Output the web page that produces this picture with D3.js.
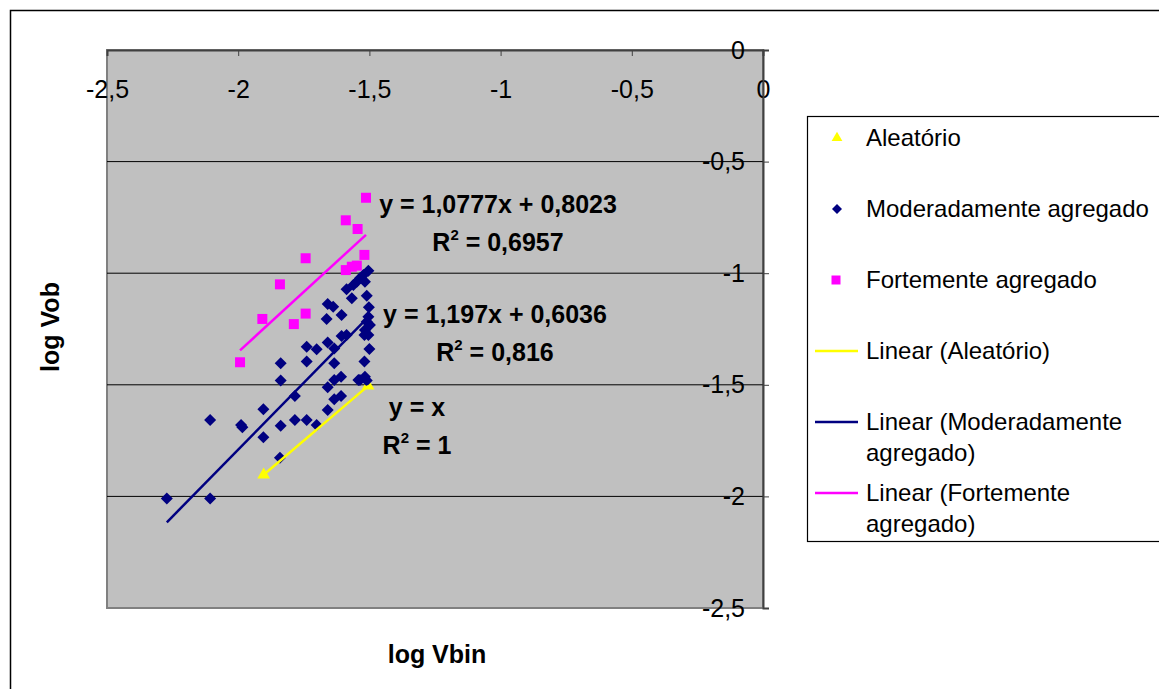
<!DOCTYPE html>
<html>
<head>
<meta charset="utf-8">
<script src="https://cdn.jsdelivr.net/npm/d3@7"></script>
<style>
  body { margin: 0; background: #fff; }
  svg text { font-family: "Liberation Sans", Arial, sans-serif; }
</style>
</head>
<body>
<svg id="chart" width="1159" height="689"></svg>
<script>
// series: [log Vbin, log Vob]
var aleatorio = [[-1.903, -1.903], [-1.505, -1.505]];

var moderado = [
  [-2.272, -2.009], [-2.107, -2.009], [-2.107, -1.658], [-1.989, -1.680], [-1.984, -1.690],
  [-1.904, -1.610], [-1.904, -1.735], [-1.841, -1.827], [-1.838, -1.404], [-1.838, -1.481],
  [-1.838, -1.683], [-1.784, -1.550], [-1.784, -1.658], [-1.739, -1.329], [-1.739, -1.396],
  [-1.739, -1.658], [-1.701, -1.341], [-1.701, -1.680], [-1.659, -1.311], [-1.659, -1.511],
  [-1.659, -1.613], [-1.634, -1.337], [-1.634, -1.404], [-1.634, -1.478], [-1.634, -1.565],
  [-1.608, -1.464], [-1.608, -1.550], [-1.606, -1.281], [-1.587, -1.277], [-1.519, -1.277],
  [-1.500, -1.340], [-1.519, -1.396], [-1.536, -1.478], [-1.517, -1.464], [-1.510, -1.481],
  [-1.542, -1.478], [-1.659, -1.138], [-1.638, -1.150], [-1.606, -1.187], [-1.663, -1.205],
  [-1.587, -1.072], [-1.567, -1.112], [-1.561, -1.053], [-1.504, -0.989], [-1.523, -1.008],
  [-1.536, -1.023], [-1.548, -1.038], [-1.517, -1.038], [-1.510, -1.101], [-1.502, -1.153],
  [-1.504, -1.195], [-1.510, -1.217], [-1.498, -1.232], [-1.517, -1.254], [-1.504, -1.277]
];

var forte = [
  [-1.513, -0.662], [-1.590, -0.763], [-1.545, -0.802], [-1.743, -0.933], [-1.519, -0.918],
  [-1.590, -0.986], [-1.548, -0.966], [-1.567, -0.971], [-1.841, -1.050], [-1.743, -1.181],
  [-1.908, -1.205], [-1.788, -1.228], [-1.993, -1.399]
];

// trendline coefficients [slope, intercept] as printed on the chart
var trendAleatorio = [1, 0];
var trendModerado = [1.197, 0.6036];
var trendForte = [1.0777, 0.8023];

var xTicks = [-2.5, -2, -1.5, -1, -0.5, 0];
var yTicks = [0, -0.5, -1, -1.5, -2, -2.5];

var legendNames = ["Aleatório", "Moderadamente agregado", "Fortemente agregado",
  "Linear (Aleatório)", "Linear (Moderadamente|agregado)", "Linear (Fortemente|agregado)"];

var svg = d3.select("#chart");
var fmt = function (d) { return String(d).replace(".", ","); };

var x = d3.scaleLinear().domain([-2.5, 0]).range([107, 763]);
var y = d3.scaleLinear().domain([-2.5, 0]).range([608, 50]);

// outer frame
svg.append("rect").attr("x", 10.5).attr("y", 10.5).attr("width", 1160).attr("height", 700)
  .attr("fill", "#fff").attr("stroke", "#000").attr("stroke-width", 1.5);

// plot area
svg.append("rect").attr("x", x(-2.5)).attr("y", y(0))
  .attr("width", x(0) - x(-2.5)).attr("height", y(-2.5) - y(0))
  .attr("fill", "#c0c0c0").attr("stroke", "#808080").attr("stroke-width", 2);

// gridlines
svg.append("g").selectAll("line").data(yTicks.filter(function (d) { return d < 0 && d > -2.5; }))
  .enter().append("line")
  .attr("x1", x(-2.5)).attr("x2", x(0))
  .attr("y1", function (d) { return y(d); }).attr("y2", function (d) { return y(d); })
  .attr("stroke", "#000").attr("stroke-width", 1);

// x axis along y = 0 (top)
var gx = svg.append("g").attr("transform", "translate(0," + y(0) + ")")
  .call(d3.axisBottom(x).tickValues(xTicks).tickFormat(fmt).tickSize(6).tickPadding(24));
gx.select(".domain").attr("stroke", "#404040").attr("stroke-width", 2);
gx.selectAll(".tick line").attr("stroke", "#404040");
gx.selectAll("text").attr("font-size", 25).attr("fill", "#000")
  .style("font-family", "'Liberation Sans', Arial, sans-serif");

// y axis along x = 0 (right), labels on the inside
var gy = svg.append("g").attr("transform", "translate(" + x(0) + ",0)")
  .call(d3.axisRight(y).tickValues(yTicks).tickFormat(fmt).tickSize(6));
gy.select(".domain").attr("stroke", "#404040").attr("stroke-width", 2);
gy.selectAll(".tick line").attr("stroke", "#404040");
gy.selectAll("text").attr("x", -18).attr("text-anchor", "end")
  .attr("font-size", 25).attr("fill", "#000")
  .style("font-family", "'Liberation Sans', Arial, sans-serif");

// markers
var tri = d3.symbol().type(d3.symbolTriangle).size(70);
var sq = d3.symbol().type(d3.symbolSquare);

svg.append("g").selectAll("path").data(aleatorio).enter().append("path")
  .attr("d", tri)
  .attr("transform", function (d) { return "translate(" + x(d[0]) + "," + y(d[1]) + ")"; })
  .attr("fill", "#ffff00");

svg.append("g").selectAll("path").data(moderado).enter().append("path")
  .attr("d", sq.size(72))
  .attr("transform", function (d) { return "translate(" + x(d[0]) + "," + y(d[1]) + ") rotate(45)"; })
  .attr("fill", "#000080");

svg.append("g").selectAll("path").data(forte).enter().append("path")
  .attr("d", sq.size(100))
  .attr("transform", function (d) { return "translate(" + x(d[0]) + "," + y(d[1]) + ")"; })
  .attr("fill", "#ff00ff");

// trendlines over each series' x range
function trend(data, coef, color) {
  var ext = d3.extent(data, function (d) { return d[0]; });
  svg.append("line")
    .attr("x1", x(ext[0])).attr("y1", y(coef[0] * ext[0] + coef[1]))
    .attr("x2", x(ext[1])).attr("y2", y(coef[0] * ext[1] + coef[1]))
    .attr("stroke", color).attr("stroke-width", 2.5);
}
trend(aleatorio, trendAleatorio, "#ffff00");
trend(moderado, trendModerado, "#000080");
trend(forte, trendForte, "#ff00ff");

// equation labels
function eqLabel(cx, by, eq, r2) {
  var g = svg.append("g").attr("font-weight", "bold").attr("font-size", 25).attr("text-anchor", "middle");
  g.append("text").attr("x", cx).attr("y", by).text(eq);
  var t = g.append("text").attr("x", cx).attr("y", by + 38);
  t.append("tspan").text("R");
  t.append("tspan").attr("font-size", 15).attr("dy", -11).text("2");
  t.append("tspan").attr("dy", 11).text(" = " + r2);
}
eqLabel(498, 213, "y = 1,0777x + 0,8023", "0,6957");
eqLabel(495, 323, "y = 1,197x + 0,6036", "0,816");
eqLabel(417, 416, "y = x", "1");

// axis titles
svg.append("text").attr("x", 437).attr("y", 663).attr("text-anchor", "middle")
  .attr("font-weight", "bold").attr("font-size", 25).text("log Vbin");
svg.append("text").attr("transform", "translate(59,327) rotate(-90)").attr("text-anchor", "middle")
  .attr("font-weight", "bold").attr("font-size", 25).text("log Vob");

// legend
var lg = svg.append("g");
lg.append("rect").attr("x", 807.5).attr("y", 116.5).attr("width", 400).attr("height", 425)
  .attr("fill", "#fff").attr("stroke", "#000").attr("stroke-width", 1.2);
var rowY = [138, 209, 280, 351, 422, 493];
var colors = ["#ffff00", "#000080", "#ff00ff", "#ffff00", "#000080", "#ff00ff"];

lg.append("path").attr("d", d3.symbol().type(d3.symbolTriangle).size(50))
  .attr("transform", "translate(837," + rowY[0] + ")").attr("fill", colors[0]);
lg.append("path").attr("d", d3.symbol().type(d3.symbolSquare).size(50))
  .attr("transform", "translate(837," + rowY[1] + ") rotate(45)").attr("fill", colors[1]);
lg.append("path").attr("d", d3.symbol().type(d3.symbolSquare).size(81))
  .attr("transform", "translate(836," + rowY[2] + ")").attr("fill", colors[2]);
[3, 4, 5].forEach(function (i) {
  lg.append("line").attr("x1", 815).attr("x2", 858).attr("y1", rowY[i]).attr("y2", rowY[i])
    .attr("stroke", colors[i]).attr("stroke-width", 2.5);
});
legendNames.forEach(function (name, i) {
  var t = lg.append("text").attr("x", 866).attr("y", rowY[i] + 8).attr("font-size", 24);
  name.split("|").forEach(function (part, j) {
    t.append("tspan").attr("x", 866).attr("dy", j === 0 ? 0 : 31).text(part);
  });
});
</script>
</body>
</html>
